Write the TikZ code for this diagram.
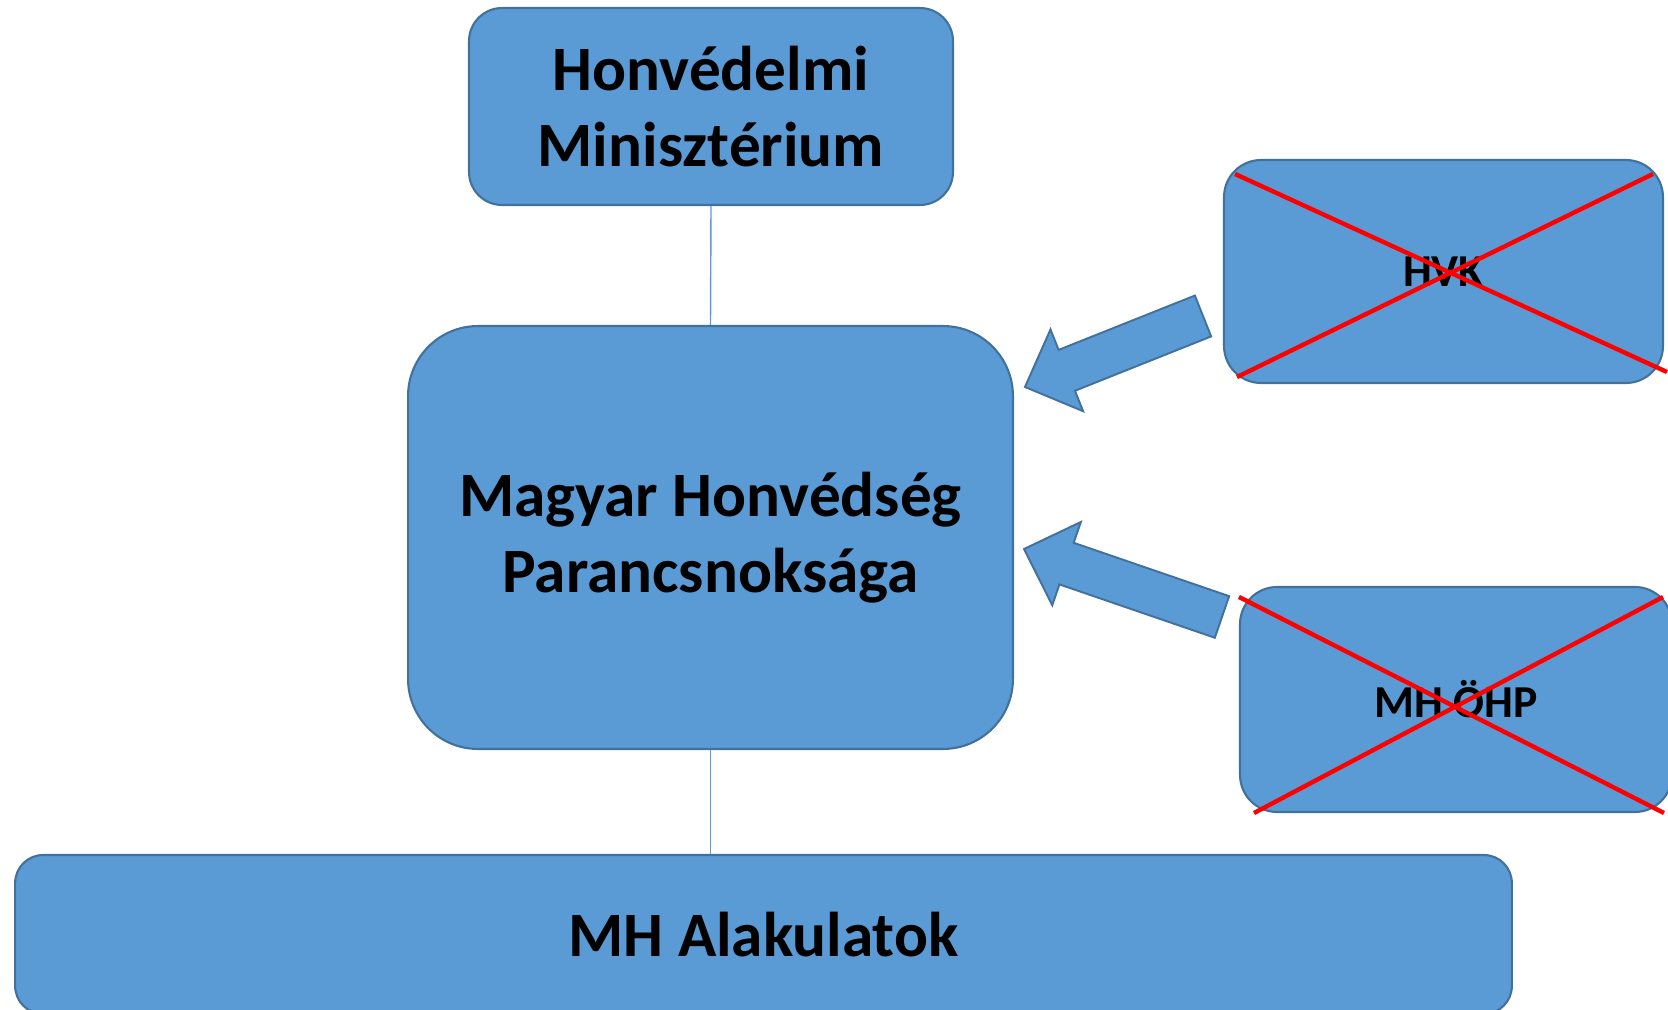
\documentclass[tikz,border=0pt]{standalone}
\usepackage{fontspec}
\setmainfont{Carlito}
\usetikzlibrary{calc,positioning}
\definecolor{hmblau}{HTML}{5B9BD5}
\definecolor{hmrand}{HTML}{41719C}
\definecolor{kreuzrot}{HTML}{FF0000}

% Blockpfeil von #1 (Ende) nach #2 (Spitze)
\newcommand{\blockpfeil}[2]{%
  \coordinate (H) at ($ (#2)!0.9cm!(#1) $);
  \draw[pfeil] (#2) -- ($ (H)!0.88cm!90:(#2) $) -- ($ (H)!0.44cm!90:(#2) $)
    -- ($ (#1)!0.44cm!90:(#2) $) -- ($ (#1)!0.44cm!-90:(#2) $)
    -- ($ (H)!0.44cm!-90:(#2) $) -- ($ (H)!0.88cm!-90:(#2) $) -- cycle;}

\begin{document}
\begin{tikzpicture}[x=0.02cm, y=-0.02cm,
  kasten/.style = {draw=hmrand, fill=hmblau, line width=1.2pt, align=center, font=\bfseries\fontsize{36}{43}\selectfont},
  klein/.style = {font=\bfseries\fontsize{26}{31}\selectfont},
  linie/.style = {draw=hmblau, line width=0.8pt},
  kreuz/.style = {draw=kreuzrot, line width=2.5pt},
  pfeil/.style = {draw=hmrand, fill=hmblau, line width=1.1pt, line join=miter}]
    \useasboundingbox (0,0) rectangle (1668,1010);

    % Hauptkästen
    \node[kasten, minimum width=9.68cm, minimum height=3.94cm, rounded corners=0.66cm] (HM) at (711,106.5) {Honvédelmi\\Minisztérium};
    \node[kasten, minimum width=12.1cm, minimum height=8.46cm, rounded corners=1.4cm] (MHP) at (710.5,537.5) {Magyar Honvédség\\Parancsnoksága};
    \node[kasten, minimum width=29.94cm, minimum height=3.18cm, rounded corners=0.56cm] (Alak) at (763.5,934.5) {MH Alakulatok};

    % Verbindungslinien
    \draw[linie] (HM.south) -- (MHP.north);
    \draw[linie] (MHP.south) -- (MHP.south |- Alak.north);

    % Aufgelöste Stellen rechts
    \node[kasten, klein, minimum width=8.78cm, minimum height=4.46cm, rounded corners=0.74cm] (HVK) at (1443.5,271.5) {HVK};
    \node[kasten, klein, minimum width=8.64cm, minimum height=4.5cm, rounded corners=0.74cm] (OEHP) at (1456,699.5) {MH ÖHP};

    % Rote Kreuze
    \draw[kreuz] ($ (HVK.north west) + (12,15) $) -- ($ (HVK.south east) + (3,-12) $);
    \draw[kreuz] ($ (HVK.south west) + (14,-7) $) -- ($ (HVK.north east) + (-11,15) $);
    \draw[kreuz] ($ (OEHP.north west) + (0,11) $) -- ($ (OEHP.south east) + (-9,0) $);
    \draw[kreuz] ($ (OEHP.south west) + (15,0) $) -- ($ (OEHP.north east) + (-10,11) $);

    % Blockpfeile zur MHP
    \coordinate (S1) at ($ (HVK.west) + (-20,44.5) $);
    \coordinate (Z1) at ($ (MHP.north east) + (11,62) $);
    \coordinate (S2) at ($ (OEHP.north west) + (-17,31) $);
    \coordinate (Z2) at ($ (MHP.east) + (10,11.5) $);
    \blockpfeil{S1}{Z1}
    \blockpfeil{S2}{Z2}

\end{tikzpicture}
\end{document}
